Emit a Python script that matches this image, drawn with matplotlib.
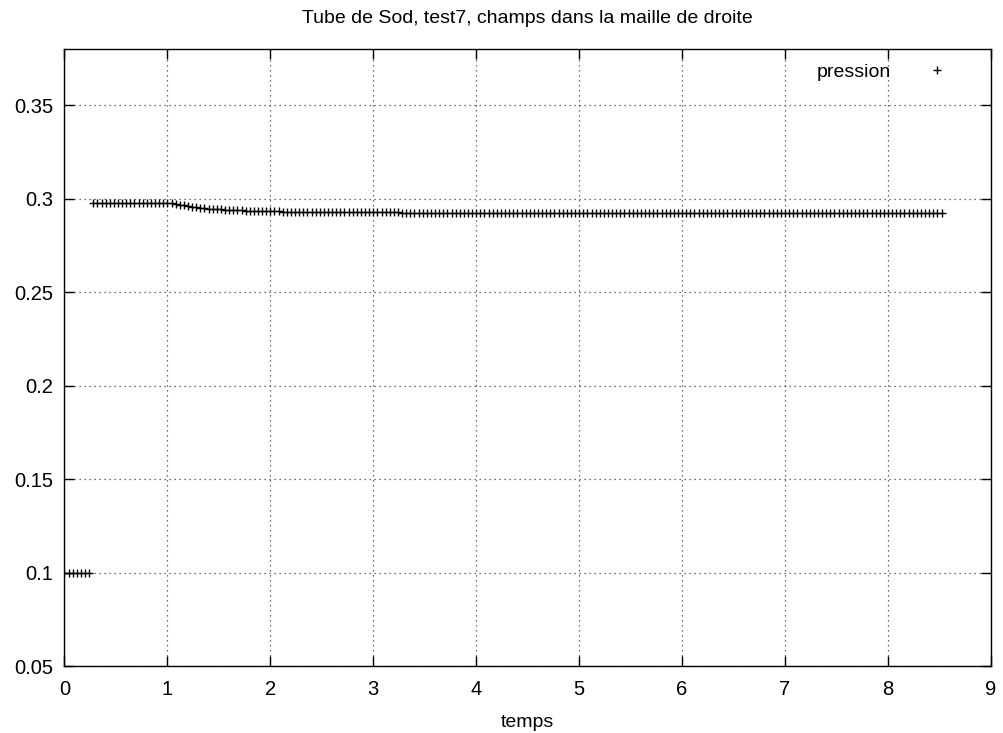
import numpy as np
import matplotlib.pyplot as plt

plt.rcParams['font.family'] = ['Liberation Sans', 'DejaVu Sans']

# pression dans la maille de droite
dt = 0.04
temps_bas = np.round(np.arange(0.0, 0.25, dt), 2)
pression_bas = [0.1000, 0.1000, 0.1000, 0.1000, 0.1000, 0.1000, 0.1000]

temps_haut = np.round(np.arange(0.28, 8.57, dt), 2)
# 0.28 -> 1.00
pression_plateau = [0.2978, 0.2978, 0.2978, 0.2978, 0.2978, 0.2978, 0.2978, 0.2978, 0.2978, 0.2978,
                    0.2977, 0.2977, 0.2977, 0.2977, 0.2977, 0.2977, 0.2977, 0.2977, 0.2977]
# 1.04 -> 2.00
pression_detente = [0.2975, 0.2972, 0.2968, 0.2964, 0.2960, 0.2957, 0.2954, 0.2951, 0.2949, 0.2947,
                    0.2945, 0.2943, 0.2942, 0.2941, 0.2940, 0.2939, 0.2938, 0.2937, 0.2936, 0.2936,
                    0.2935, 0.2934, 0.2934, 0.2933, 0.2933]
# 2.04 -> 4.00
pression_milieu = [0.2932, 0.2932, 0.2931, 0.2931, 0.2931, 0.2930, 0.2930, 0.2930, 0.2929, 0.2929,
                   0.2929, 0.2929, 0.2928, 0.2928, 0.2928, 0.2928, 0.2928, 0.2927, 0.2927, 0.2927,
                   0.2927, 0.2927, 0.2927, 0.2926, 0.2926, 0.2926, 0.2926, 0.2926, 0.2926, 0.2926,
                   0.2926, 0.2925, 0.2925, 0.2925, 0.2925, 0.2925, 0.2925, 0.2925, 0.2925, 0.2925,
                   0.2925, 0.2925, 0.2924, 0.2924, 0.2924, 0.2924, 0.2924, 0.2924, 0.2924, 0.2924]
# 4.04 -> 8.52
pression_fin = [0.2924, 0.2924, 0.2924, 0.2924, 0.2924, 0.2924, 0.2924, 0.2924, 0.2924, 0.2924,
                0.2924, 0.2924, 0.2924, 0.2924, 0.2924, 0.2924, 0.2924, 0.2924, 0.2924, 0.2924,
                0.2923, 0.2923, 0.2923, 0.2923, 0.2923, 0.2923, 0.2923, 0.2923, 0.2923, 0.2923,
                0.2923, 0.2923, 0.2923, 0.2923, 0.2923, 0.2923, 0.2923, 0.2923, 0.2923, 0.2923,
                0.2923, 0.2923, 0.2923, 0.2923, 0.2923, 0.2923, 0.2923, 0.2923, 0.2923, 0.2923,
                0.2923, 0.2923, 0.2923, 0.2923, 0.2923, 0.2923, 0.2923, 0.2923, 0.2923, 0.2923,
                0.2922, 0.2922, 0.2922, 0.2922, 0.2922, 0.2922, 0.2922, 0.2922, 0.2922, 0.2922,
                0.2922, 0.2922, 0.2922, 0.2922, 0.2922, 0.2922, 0.2922, 0.2922, 0.2922, 0.2922,
                0.2922, 0.2922, 0.2922, 0.2922, 0.2922, 0.2922, 0.2922, 0.2922, 0.2922, 0.2922,
                0.2922, 0.2922, 0.2922, 0.2922, 0.2922, 0.2922, 0.2922, 0.2922, 0.2922, 0.2922,
                0.2922, 0.2922, 0.2922, 0.2922, 0.2922, 0.2922, 0.2922, 0.2922, 0.2922, 0.2922,
                0.2922, 0.2922, 0.2922]

pression_haut = pression_plateau + pression_detente + pression_milieu + pression_fin
temps = np.concatenate([temps_bas, temps_haut[:len(pression_haut)]])
pression = pression_bas + pression_haut

xticks = [0, 1, 2, 3, 4, 5, 6, 7, 8, 9]
yticks = [0.05, 0.1, 0.15, 0.2, 0.25, 0.3, 0.35]
ytick_labels = ['0.05', '0.1', '0.15', '0.2', '0.25', '0.3', '0.35']

fig = plt.figure(figsize=(10.04, 7.33), dpi=100)
ax = fig.add_axes([0.0642, 0.0914, 0.9228, 0.8417])

ax.plot(temps, pression, linestyle='none', marker='+', markersize=6, markeredgewidth=1,
        color='black', label='pression')

ax.set_xlim(0, 9)
ax.set_ylim(0.05, 0.38)
ax.set_xticks(xticks)
ax.set_yticks(yticks)
ax.set_yticklabels(ytick_labels)
ax.tick_params(direction='in', length=7, width=1, top=True, right=True, labelsize=14.5)
ax.tick_params(axis='x', pad=10)
ax.tick_params(axis='y', pad=8)
ax.grid(True, linestyle=(0, (1, 3)), color='0.25', linewidth=0.9)
for s in ax.spines.values():
    s.set_linewidth(1)

ax.set_title("Tube de Sod, test7, champs dans la maille de droite", fontsize=14, pad=19)
ax.set_xlabel("temps", fontsize=14, labelpad=11)

ax.legend(loc='upper right', bbox_to_anchor=(0.9655, 0.99), frameon=False, markerfirst=False,
          fontsize=14, handlelength=1.5, borderaxespad=0, handletextpad=1.6)

fig.savefig('out.png', dpi=100)
